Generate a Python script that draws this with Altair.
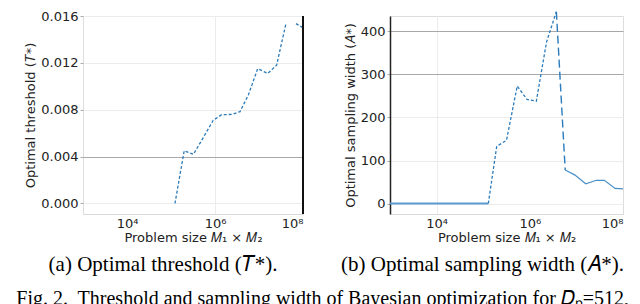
import altair as alt
import pandas as pd

# ---- data ----
# (a) optimal threshold T* vs log10(problem size)
t_exp = [5.09, 5.30, 5.51, 5.73, 5.96, 6.15, 6.38, 6.57, 6.76, 6.97, 7.20, 7.40, 7.61, 7.84, 8.00]
t_val = [0.0000, 0.00450, 0.00419, 0.00560, 0.00710, 0.00757, 0.00760, 0.00784,
         0.00928, 0.01150, 0.01110, 0.01180, 0.01530, 0.01535, 0.01500]
# (b) optimal sampling width A* vs log10(problem size)
a_exp = [3.00, 5.11, 5.29, 5.50, 5.73, 5.94, 6.14, 6.36, 6.57, 6.76, 6.97, 7.20, 7.43, 7.60, 7.83, 8.00]
a_val = [0, 0, 133, 147, 273, 242, 238, 376, 446, 78, 66, 46, 54, 54, 35, 34]

x_ticks = [1e4, 1e6, 1e8]
t_ticks = [0.0, 0.004, 0.008, 0.012, 0.016]
a_ticks = [0, 100, 200, 300, 400]

df_t = pd.DataFrame({"size": [10 ** e for e in t_exp], "exp": t_exp, "T": t_val})
df_a = pd.DataFrame({"size": [10 ** e for e in a_exp], "exp": a_exp, "A": a_val})

BLUE = "#2b7bba"
FONT = "DejaVu Sans"
SERIF = "Liberation Serif"
label_expr = "datum.value < 1e5 ? '10⁴' : datum.value < 1e7 ? '10⁶' : '10⁸'"
xscale = alt.Scale(type="log", domain=[1e3, 1e8], nice=False)
T_DOM = [-0.0009, 0.016]
A_DOM = [-24.4, 436]


def x_axis(grid_at):
    return alt.Axis(
        values=x_ticks, labelExpr=label_expr, title="Problem size 𝑀₁ × 𝑀₂",
        grid=True,
        gridColor={"condition": {"test": f"abs(datum.value - {grid_at}) < 1", "value": "#ececec"},
                   "value": "transparent"},
        domainColor="#d9d9d9", domainWidth=1.2, ticks=False, labelPadding=3, titlePadding=1,
        labelFont=FONT, titleFont=FONT, labelFontSize=13, titleFontSize=13,
        labelColor="#222222", titleColor="#222222", titleFontWeight="normal",
    )


def y_axis(values, title, dark, fmt, domain_black):
    cond = " || ".join(f"abs(datum.value - {d}) < 1e-9" for d in dark)
    kw = dict(
        values=values, title=title, format=fmt, grid=True,
        gridColor={"condition": {"test": cond, "value": "#a8a8a8"}, "value": "#ececec"},
        tickSize=3, tickColor="#aaaaaa", labelPadding=2, titlePadding=3,
        labelFont=FONT, titleFont=FONT, labelFontSize=13, titleFontSize=13,
        labelColor="#222222", titleColor="#222222", titleFontWeight="normal",
    )
    if domain_black:
        kw.update(domain=True, domainColor="#222222", domainWidth=1.5)
    else:
        kw.update(domain=False)
    return alt.Axis(**kw)


# ---- panel (a) ----
xa = alt.X("size:Q", scale=xscale, axis=x_axis(1e6))
ya = alt.Y("T:Q", scale=alt.Scale(domain=T_DOM, nice=False, zero=False),
           axis=y_axis(t_ticks, "Optimal threshold (𝑇*)", [0.004], ".3f", False))

base_t = alt.Chart(df_t)
seg1 = base_t.transform_filter("datum.exp <= 7.62").mark_line(
    color=BLUE, strokeWidth=1.3, strokeDash=[3, 2]).encode(x=xa, y=ya)
seg2 = base_t.transform_filter("datum.exp >= 7.8").mark_line(
    color=BLUE, strokeWidth=1.3, strokeDash=[3, 2]).encode(x=xa, y=ya)
spine_a = alt.Chart(df_t).mark_rule(color="#111111", strokeWidth=1.6).encode(x=alt.datum(1e8))

panel_a = alt.layer(seg1, seg2, spine_a).properties(
    width=220, height=198,
    title=alt.TitleParams("(a) Optimal threshold (𝑇*).", orient="bottom", font=SERIF,
                          fontSize=21, fontWeight="normal", color="#000000", dx=-30, offset=10),
)

# ---- panel (b) ----
xb = alt.X("size:Q", scale=xscale, axis=x_axis(1e4))
yb = alt.Y("A:Q", scale=alt.Scale(domain=A_DOM, nice=False, zero=False),
           axis=y_axis(a_ticks, "Optimal sampling width (𝐴*)", [300, 400], "d", True))

base_a = alt.Chart(df_a)
zero_part = base_a.transform_filter("datum.exp <= 5.12").mark_line(
    color="#5b9bd0", strokeWidth=1.8).encode(x=xb, y=yb)
rise_part = base_a.transform_filter("datum.exp >= 5.1 && datum.exp <= 6.58").mark_line(
    color=BLUE, strokeWidth=1.3, strokeDash=[3, 2]).encode(x=xb, y=yb)
drop_part = base_a.transform_filter("datum.exp >= 6.56 && datum.exp <= 6.77").mark_line(
    color=BLUE, strokeWidth=1.4, strokeDash=[8, 4]).encode(x=xb, y=yb)
tail_part = base_a.transform_filter("datum.exp >= 6.75").mark_line(
    color="#4a90c8", strokeWidth=1.2).encode(x=xb, y=yb)

panel_b = alt.layer(zero_part, rise_part, drop_part, tail_part).properties(
    width=233, height=198,
    title=alt.TitleParams("(b) Optimal sampling width (𝐴*).", orient="bottom", font=SERIF,
                          fontSize=21, fontWeight="normal", color="#000000", dx=-24, offset=10),
)

chart = alt.hconcat(panel_a, panel_b, spacing=87, bounds="flush").properties(
    title=alt.TitleParams(
        "Fig. 2.\u00a0 Threshold and sampling width of Bayesian optimization for 𝐷ₚ=512,",
        orient="bottom", anchor="start", frame="bounds", font=SERIF, fontSize=20,
        fontWeight="normal", color="#000000", offset=13, dx=-8),
    padding={"left": 8, "top": 0, "right": 0, "bottom": 0},
).configure_view(stroke=None).configure(background="white")

chart.save("out.html", embed_options={"renderer": "svg", "actions": False})
